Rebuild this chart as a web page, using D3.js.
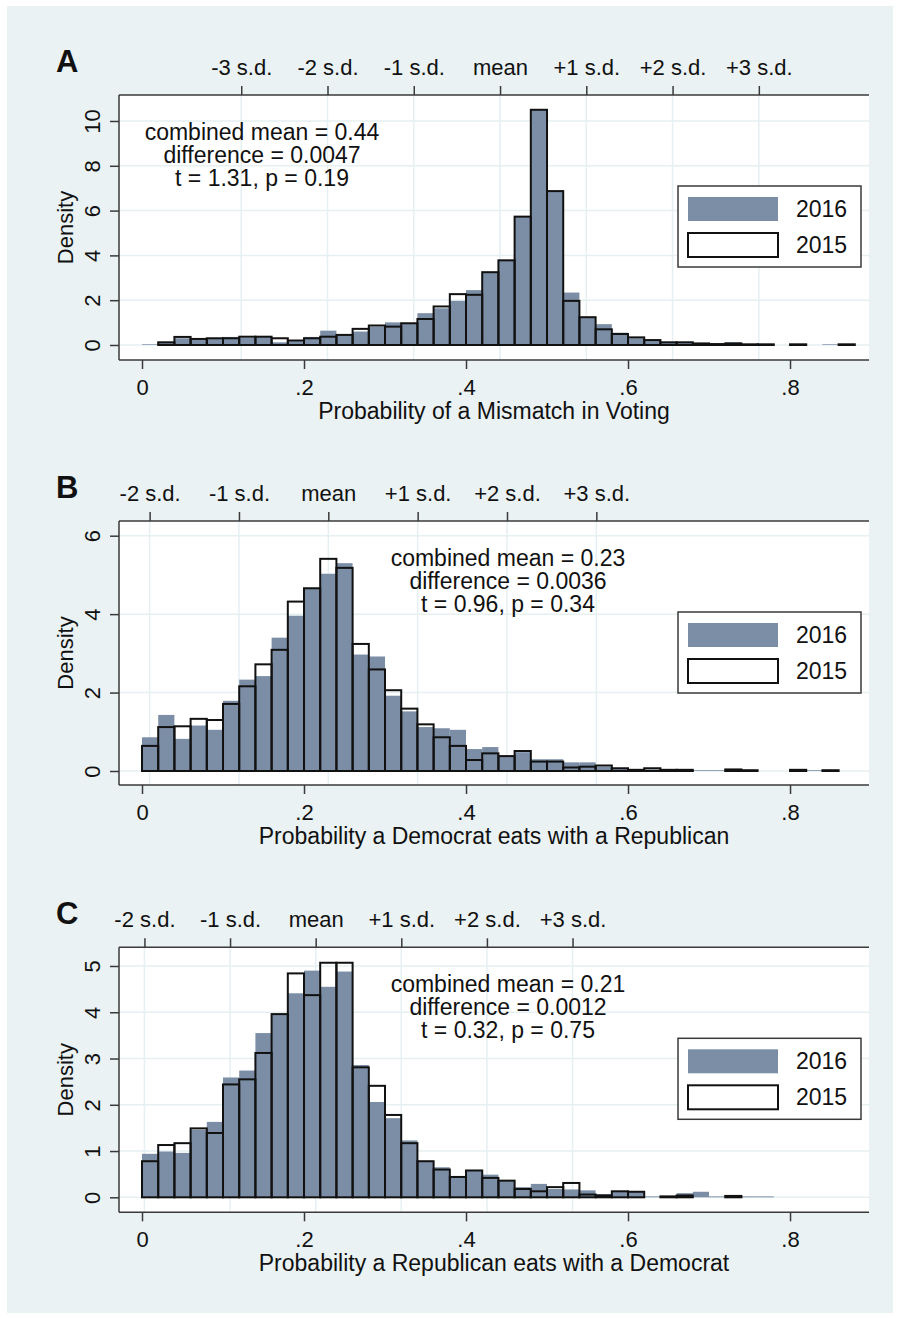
<!DOCTYPE html>
<html>
<head>
<meta charset="utf-8">
<style>
  body { margin: 0; background: #fff; }
  svg text { font-family: "Liberation Sans", Arial, sans-serif; fill: #111; }
</style>
</head>
<body>
<svg id="chart"></svg>

<script src="https://cdn.jsdelivr.net/npm/d3@7"></script>
<script>
// data (density per bin, bins 0.02 wide starting at 0)
var binWidth = 0.02
var xTicks = [0, 0.2, 0.4, 0.6, 0.8]
var letters = ["A", "B", "C"]
var xTitles = ["Probability of a Mismatch in Voting",
               "Probability a Democrat eats with a Republican",
               "Probability a Republican eats with a Democrat"]
var means = [0.442, 0.230, 0.2144]
var sds = [0.1065, 0.1103, 0.1057]
var sdStepsA = [-3, -2, -1, 0, 1, 2, 3]
var sdStepsBC = [-2, -1, 0, 1, 2, 3]
var yTicksA = [0, 2, 4, 6, 8, 10]
var yTicksB = [0, 2, 4, 6]
var yTicksC = [0, 1, 2, 3, 4, 5]
var statsA = ["combined mean = 0.44", "difference = 0.0047", "t = 1.31, p = 0.19"]
var statsB = ["combined mean = 0.23", "difference = 0.0036", "t = 0.96, p = 0.34"]
var statsC = ["combined mean = 0.21", "difference = 0.0012", "t = 0.32, p = 0.75"]
var legendLabels = ["2016", "2015"]

var a2016 = [0.03, 0.10, 0.30, 0.25, 0.27, 0.36, 0.33, 0.37, 0.12, 0.17,
             0.36, 0.64, 0.48, 0.60, 0.82, 1.01, 0.97, 1.42, 1.64, 1.97,
             2.45, 3.25, 3.76, 5.73, 10.5, 6.87, 2.34, 1.24, 0.93, 0.55,
             0.30, 0.20, 0.10, 0.12, 0.06, 0.07, 0.12, 0.03, 0.02, 0,
             0.03, 0, 0.03, 0.02]
var a2015 = [0, 0.12, 0.36, 0.27, 0.30, 0.30, 0.37, 0.37, 0.30, 0.20,
             0.30, 0.37, 0.45, 0.72, 0.87, 0.82, 0.97, 1.16, 1.72, 2.27,
             2.24, 3.25, 3.78, 5.73, 10.5, 6.87, 1.97, 1.24, 0.70, 0.49,
             0.34, 0.22, 0.12, 0.12, 0.07, 0.04, 0.07, 0.03, 0.03, 0,
             0.03, 0, 0, 0.03]
var b2016 = [0.86, 1.43, 0.82, 1.16, 1.05, 1.79, 2.33, 2.42, 3.40, 3.96,
             4.66, 5.03, 5.30, 2.97, 2.92, 1.92, 1.52, 1.12, 1.09, 1.05,
             0.56, 0.61, 0.37, 0.48, 0.30, 0.30, 0.22, 0.22, 0.11, 0.07,
             0.03, 0.04, 0.03, 0.03, 0.02, 0.02, 0.03, 0.02, 0, 0,
             0.02, 0.02, 0.01]
var b2015 = [0.64, 1.12, 1.14, 1.33, 1.30, 1.71, 2.16, 2.72, 3.09, 4.32,
             4.66, 5.41, 5.18, 3.24, 2.59, 2.06, 1.59, 1.19, 0.86, 0.64,
             0.28, 0.45, 0.38, 0.51, 0.24, 0.24, 0.09, 0.11, 0.14, 0.07,
             0.03, 0.07, 0.03, 0.03, 0, 0, 0.04, 0.02, 0, 0,
             0.03, 0, 0.02]
var c2016 = [0.94, 0.99, 0.96, 1.46, 1.63, 2.59, 2.74, 3.55, 3.96, 4.41,
             4.90, 4.55, 4.88, 2.86, 2.06, 1.71, 1.23, 0.78, 0.65, 0.44,
             0.58, 0.49, 0.36, 0.22, 0.29, 0.18, 0.17, 0.15, 0.07, 0.12,
             0.12, 0.02, 0.02, 0.09, 0.12, 0.02, 0.02, 0.02, 0.02]
var c2015 = [0.78, 1.13, 1.17, 1.49, 1.39, 2.44, 2.55, 3.12, 3.96, 4.84,
             4.37, 5.07, 5.07, 2.81, 2.41, 1.78, 1.17, 0.78, 0.60, 0.44,
             0.58, 0.42, 0.36, 0.18, 0.13, 0.22, 0.31, 0.06, 0.04, 0.13,
             0.12, 0, 0.02, 0.04, 0, 0, 0.03, 0, 0]

var width = 900, height = 1318
var fill2016 = "#7b8ea6"
var gridColor = "#e6eff2"
var axisColor = "#3a3a3a"

var svg = d3.select("#chart").attr("width", width).attr("height", height)

// graph region background
svg.append("rect").attr("x", 7).attr("y", 6).attr("width", 886).attr("height", 1307)
    .attr("fill", "#eaf2f3")

var panels = [
  { top: 95, bottom: 360, yDomain: [-0.67, 11.16], yTicks: yTicksA, sd: sdStepsA,
    stats: statsA, statX: 262, v16: a2016, v15: a2015 },
  { top: 521, bottom: 785, yDomain: [-0.357, 6.375], yTicks: yTicksB, sd: sdStepsBC,
    stats: statsB, statX: 508, v16: b2016, v15: b2015 },
  { top: 947.3, bottom: 1212.3, yDomain: [-0.324, 5.404], yTicks: yTicksC, sd: sdStepsBC,
    stats: statsC, statX: 508, v16: c2016, v15: c2015 }
]

var left = 119, right = 869
var x = d3.scaleLinear().domain([-0.0284, 0.8975]).range([left, right])

function sdLabel(k) {
  if (k === 0) return "mean"
  return (k > 0 ? "+" : "") + k + " s.d."
}
function xFmt(d) {
  return d === 0 ? "0" : String(d).replace(/^0/, "")
}

panels.forEach(function(p, i) {
  var y = d3.scaleLinear().domain(p.yDomain).range([p.bottom, p.top])
  var g = svg.append("g")

  // plot region
  g.append("rect").attr("x", left).attr("y", p.top)
      .attr("width", right - left).attr("height", p.bottom - p.top)
      .attr("fill", "#fff")

  var sdVals = p.sd.map(function(k) { return means[i] + k * sds[i] })

  // grid lines
  g.selectAll(".hgrid").data(p.yTicks).enter().append("line")
      .attr("x1", left).attr("x2", right)
      .attr("y1", function(d) { return y(d) }).attr("y2", function(d) { return y(d) })
      .attr("stroke", gridColor).attr("stroke-width", 1.5)
  g.selectAll(".vgrid").data(sdVals).enter().append("line")
      .attr("y1", p.top).attr("y2", p.bottom)
      .attr("x1", function(d) { return x(d) }).attr("x2", function(d) { return x(d) })
      .attr("stroke", gridColor).attr("stroke-width", 1.5)

  // bins, skipping empty ones
  var bars16 = p.v16.map(function(v, j) { return { v: v, j: j } }).filter(function(d) { return d.v > 0 })
  var bars15 = p.v15.map(function(v, j) { return { v: v, j: j } }).filter(function(d) { return d.v > 0 })

  // 2016 filled
  g.selectAll(".bar16").data(bars16).enter().append("rect")
      .attr("x", function(d) { return x(d.j * binWidth) })
      .attr("width", function(d) { return x((d.j + 1) * binWidth) - x(d.j * binWidth) })
      .attr("y", function(d) { return y(d.v) })
      .attr("height", function(d) { return y(0) - y(d.v) })
      .attr("fill", fill2016)

  // 2015 outlined on top
  g.selectAll(".bar15").data(bars15).enter().append("rect")
      .attr("x", function(d) { return x(d.j * binWidth) })
      .attr("width", function(d) { return x((d.j + 1) * binWidth) - x(d.j * binWidth) })
      .attr("y", function(d) { return y(d.v) })
      .attr("height", function(d) { return y(0) - y(d.v) })
      .attr("fill", "none").attr("stroke", "#111").attr("stroke-width", 2)

  // axes
  var bottomAxis = g.append("g").attr("transform", "translate(0," + p.bottom + ")")
      .call(d3.axisBottom(x).tickValues(xTicks).tickFormat(xFmt).tickSize(9).tickSizeOuter(0))
  var topAxis = g.append("g").attr("transform", "translate(0," + p.top + ")")
      .call(d3.axisTop(x).tickValues(sdVals).tickFormat(function(d, k) { return sdLabel(p.sd[k]) })
        .tickSize(9).tickSizeOuter(0))
  var leftAxis = g.append("g").attr("transform", "translate(" + left + ",0)")
      .call(d3.axisLeft(y).tickValues(p.yTicks).tickFormat(function(d) { return String(d) })
        .tickSize(9).tickSizeOuter(0))

  ;[bottomAxis, topAxis, leftAxis].forEach(function(a) {
    a.select(".domain").remove()
    a.selectAll(".tick line").attr("stroke", axisColor).attr("stroke-width", 1.5)
    a.selectAll("text").attr("font-size", 22).attr("fill", "#111")
  })
  // axis lines: left, bottom and top
  g.append("line").attr("x1", left).attr("x2", left).attr("y1", p.top).attr("y2", p.bottom)
      .attr("stroke", axisColor).attr("stroke-width", 1.5)
  g.append("line").attr("x1", left).attr("x2", right).attr("y1", p.bottom).attr("y2", p.bottom)
      .attr("stroke", axisColor).attr("stroke-width", 1.5)
  g.append("line").attr("x1", left).attr("x2", right).attr("y1", p.top).attr("y2", p.top)
      .attr("stroke", axisColor).attr("stroke-width", 1.5)

  bottomAxis.selectAll("text").attr("dy", null).attr("y", 35)
  topAxis.selectAll("text").attr("dy", null).attr("y", -20)
  leftAxis.selectAll("text")
      .attr("dy", null).attr("x", null)
      .attr("text-anchor", "middle")
      .attr("transform", "translate(-19,0) rotate(-90)")

  // axis titles
  g.append("text").attr("x", (left + right) / 2).attr("y", p.bottom + 59)
      .attr("text-anchor", "middle").attr("font-size", 23).text(xTitles[i])
  g.append("text")
      .attr("transform", "translate(73," + ((p.top + p.bottom) / 2) + ") rotate(-90)")
      .attr("text-anchor", "middle").attr("font-size", 22).text("Density")

  // panel letter
  g.append("text").attr("x", 56).attr("y", p.top - 23)
      .attr("font-size", 31).attr("font-weight", "bold").text(letters[i])

  // stats text
  g.selectAll(".stat").data(p.stats).enter().append("text")
      .attr("x", p.statX).attr("y", function(d, k) { return p.top + 45 + k * 23 })
      .attr("text-anchor", "middle").attr("font-size", 23).text(function(d) { return d })

  // legend
  var lg = g.append("g").attr("transform", "translate(678," + (p.top + 91) + ")")
  lg.append("rect").attr("width", 183).attr("height", 81)
      .attr("fill", "#fff").attr("stroke", axisColor).attr("stroke-width", 1.5)
  lg.append("rect").attr("x", 10).attr("y", 11).attr("width", 90).attr("height", 24)
      .attr("fill", fill2016)
  lg.append("rect").attr("x", 10).attr("y", 47).attr("width", 90).attr("height", 24)
      .attr("fill", "#fff").attr("stroke", "#111").attr("stroke-width", 2)
  lg.selectAll(".lt").data(legendLabels).enter().append("text")
      .attr("x", 118).attr("y", function(d, k) { return 31 + k * 36 })
      .attr("font-size", 23).text(function(d) { return d })
})
</script>
</body>
</html>
